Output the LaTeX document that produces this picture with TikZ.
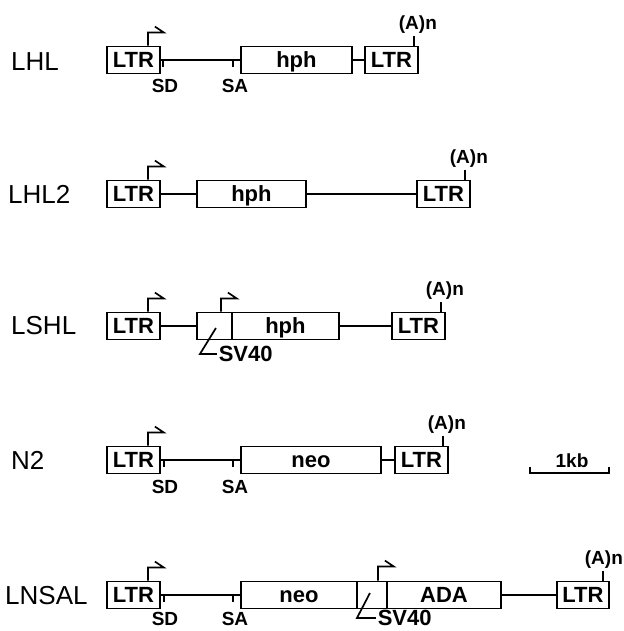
\documentclass[tikz,border=0pt]{standalone}
\usepackage{fontspec}
\setmainfont{Liberation Sans}
\usetikzlibrary{positioning, calc}

\begin{document}
\begin{tikzpicture}[
    x=1pt, y=-1pt,
    seg/.style={draw=black, line width=1.9pt, anchor=west, minimum height=27, inner sep=0pt, text height=15pt, text depth=0pt, font=\fontsize{22}{22}\selectfont\bfseries},
    ltr/.style={seg, minimum width=53},
    vecname/.style={anchor=west, inner sep=0pt, font=\fontsize{26}{26}\selectfont},
    site/.style={inner sep=0pt, font=\fontsize{19}{19}\selectfont\bfseries},
    polya/.style={anchor=south, inner sep=1pt, font=\fontsize{19}{19}\selectfont\bfseries},
    svlabel/.style={anchor=west, inner sep=1pt, font=\fontsize{22}{22}\selectfont\bfseries},
    wire/.style={draw=black, line width=1.7pt},
    prom/.style={draw=black, line width=1.7pt, line join=miter}
]
\useasboundingbox (0,0) rectangle (623,631);

% ==================== LHL ====================
\node[vecname] (lhl) at (11,62) {LHL};
\node[ltr] (lhl_ltra) at (106,60) {LTR};
\node[seg, minimum width=111] (lhl_hph) at (240,60) {hph};
\node[ltr] (lhl_ltrb) at (364,60) {LTR};
\draw[wire] (lhl_ltra) -- (lhl_hph);
\draw[wire] (lhl_hph) -- (lhl_ltrb);
\coordinate (lhl_sd) at (163,60);
\coordinate (lhl_sa) at (233,60);
\draw[wire] (lhl_sd) -- ++(0,7);
\draw[wire] (lhl_sa) -- ++(0,7);
\node[site] (lhl_sdl) at (165,86) {SD};
\node[site] (lhl_sal) at (235,86) {SA};
\draw[prom] ([xshift=-13]lhl_ltra.north east) -- ++(0,-13) -- ++(16,0) -- ++(-9,-6);
\draw[wire] ([xshift=-5]lhl_ltrb.north east) -- ++(0,-10) node[polya, xshift=4] (lhl_pa) {(A)n};

% ==================== LHL2 ====================
\node[vecname] (lhlb) at (8,194) {LHL2};
\node[ltr] (lhlb_ltra) at (106,194) {LTR};
\node[seg, minimum width=109] (lhlb_hph) at (196,194) {hph};
\node[ltr] (lhlb_ltrb) at (416,194) {LTR};
\draw[wire] (lhlb_ltra) -- (lhlb_hph);
\draw[wire] (lhlb_hph) -- (lhlb_ltrb);
\draw[prom] ([xshift=-13]lhlb_ltra.north east) -- ++(0,-13) -- ++(16,0) -- ++(-9,-6);
\draw[wire] ([xshift=-6]lhlb_ltrb.north east) -- ++(0,-10) node[polya, xshift=4] (lhlb_pa) {(A)n};

% ==================== LSHL ====================
\node[vecname] (lshl) at (11,326) {LSHL};
\node[ltr] (lshl_ltra) at (106,326) {LTR};
\node[seg, minimum width=35] (lshl_sv) at (196,326) {};
\node[seg, minimum width=107] (lshl_hph) at (231,326) {hph};
\node[ltr] (lshl_ltrb) at (391,326) {LTR};
\draw[wire] (lshl_ltra) -- (lshl_sv);
\draw[wire] (lshl_hph) -- (lshl_ltrb);
\draw[prom] ([xshift=-13]lshl_ltra.north east) -- ++(0,-13) -- ++(16,0) -- ++(-9,-6);
\draw[prom] ([xshift=-12]lshl_sv.north east) -- ++(0,-13) -- ++(16,0) -- ++(-9,-6);
\draw[wire] ([xshift=-5]lshl_ltrb.north east) -- ++(0,-10) node[polya, xshift=4] (lshl_pa) {(A)n};
\draw[wire] ([xshift=1.5,yshift=-2]lshl_sv.center) -- ++(-16,26) -- ++(17,0) node[svlabel] (lshl_svl) {SV40};

% ==================== N2 ====================
\node[vecname] (ntwo) at (11,460) {N2};
\node[ltr] (ntwo_ltra) at (106,460) {LTR};
\node[seg, minimum width=140] (ntwo_neo) at (240,460) {neo};
\node[ltr] (ntwo_ltrb) at (394,460) {LTR};
\draw[wire] (ntwo_ltra) -- (ntwo_neo);
\draw[wire] (ntwo_neo) -- (ntwo_ltrb);
\coordinate (ntwo_sd) at (164,460);
\coordinate (ntwo_sa) at (233,460);
\draw[wire] (ntwo_sd) -- ++(0,7);
\draw[wire] (ntwo_sa) -- ++(0,7);
\node[site] (ntwo_sdl) at (165,487) {SD};
\node[site] (ntwo_sal) at (235,487) {SA};
\draw[prom] ([xshift=-13]ntwo_ltra.north east) -- ++(0,-13) -- ++(16,0) -- ++(-9,-6);
\draw[wire] ([xshift=-6]ntwo_ltrb.north east) -- ++(0,-10) node[polya, xshift=4] (ntwo_pa) {(A)n};

% scale bar
\coordinate (bar_l) at (530,473);
\coordinate (bar_r) at (609,473);
\draw[wire] ([yshift=6]bar_l) -- (bar_l) -- (bar_r) -- ([yshift=6]bar_r);
\node[site] (bar_kb) at (572,461) {1kb};

% ==================== LNSAL ====================
\node[vecname] (lnsal) at (5,596) {LNSAL};
\node[ltr] (lnsal_ltra) at (106,595) {LTR};
\node[seg, minimum width=116] (lnsal_neo) at (240,595) {neo};
\node[seg, minimum width=30] (lnsal_sv) at (356,595) {};
\node[seg, minimum width=114] (lnsal_ada) at (386,595) {ADA};
\node[seg, minimum width=52] (lnsal_ltrb) at (556,595) {LTR};
\draw[wire] (lnsal_ltra) -- (lnsal_neo);
\draw[wire] (lnsal_ada) -- (lnsal_ltrb);
\coordinate (lnsal_sd) at (164,595);
\coordinate (lnsal_sa) at (233,595);
\draw[wire] (lnsal_sd) -- ++(0,7);
\draw[wire] (lnsal_sa) -- ++(0,7);
\node[site] (lnsal_sdl) at (165,619) {SD};
\node[site] (lnsal_sal) at (235,619) {SA};
\draw[prom] ([xshift=-13]lnsal_ltra.north east) -- ++(0,-13) -- ++(16,0) -- ++(-9,-6);
\draw[prom] ([xshift=-10]lnsal_sv.north east) -- ++(0,-14) -- ++(16,0) -- ++(-9,-6);
\draw[wire] ([xshift=-7]lnsal_ltrb.north east) -- ++(0,-10) node[polya, xshift=1] (lnsal_pa) {(A)n};
\draw[wire] ([xshift=-2,yshift=2]lnsal_sv.center) -- ++(-13,25) -- ++(19,0) node[svlabel] (lnsal_svl) {SV40};

\end{tikzpicture}
\end{document}
